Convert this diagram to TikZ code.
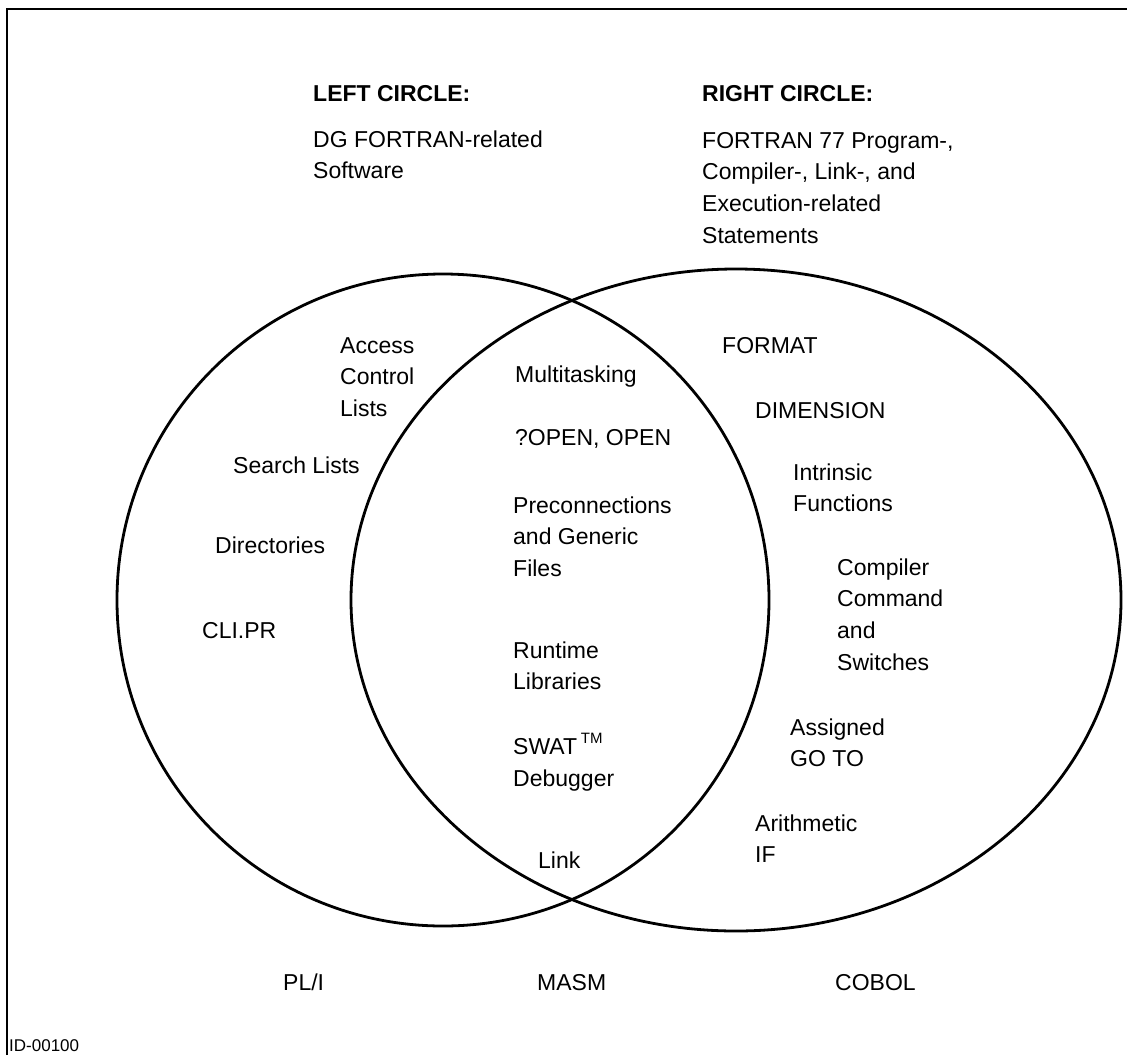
\documentclass[tikz,border=0pt]{standalone}
\usepackage{fontspec}
\setmainfont{Liberation Sans}
\begin{document}
\begin{tikzpicture}[x=1pt,y=-1pt,
  % labels are placed by the baseline of their last line
  lbl/.style={anchor=base west, align=left, inner sep=0pt,
    font=\fontsize{23}{31.7}\selectfont, text height=0.75em, text depth=0.25em},
  head/.style={lbl, font=\fontsize{23}{31.7}\selectfont\bfseries},
  ring/.style={line width=2.8pt},
  frame/.style={line width=1.6pt}]
\useasboundingbox (0,0) rectangle (1127,1055);

% frame
\draw[frame] (7,1055) -- (7,9) -- (1127,9);

% the two overlapping circles
\draw[ring] (443,600) circle [radius=326];
\draw[ring] (736,600) ellipse [x radius=385, y radius=331];

% headings
\node[head] (lh) at (313,101) {LEFT CIRCLE:};
\node[lbl] (ld) at (313,178.7) {DG FORTRAN-related\\Software};
\node[head] (rh) at (702,101) {RIGHT CIRCLE:};
\node[lbl] (rd) at (702,243.1) {FORTRAN 77 Program-,\\Compiler-, Link-, and\\Execution-related\\Statements};

% left circle only
\node[lbl] (acl) at (340,416.4) {Access\\Control\\Lists};
\node[lbl] (sl) at (233,473) {Search Lists};
\node[lbl] (dir) at (215,553) {Directories};
\node[lbl] (cli) at (202,638) {CLI.PR};

% shared region
\node[lbl] (mt) at (515,382) {Multitasking};
\node[lbl] (op) at (515,445) {?OPEN, OPEN};
\node[lbl] (pc) at (513,576.4) {Preconnections\\and Generic\\Files};
\node[lbl] (rt) at (513,689.7) {Runtime\\Libraries};
\node[lbl] (sw) at (513,786) {SWAT\,\raisebox{0.45em}{\fontsize{15}{15}\selectfont TM}\\Debugger};
\node[lbl] (lk) at (538,868) {Link};

% right circle only
\node[lbl] (fm) at (722,353) {FORMAT};
\node[lbl] (dm) at (755,418) {DIMENSION};
\node[lbl] (ifn) at (793,511.7) {Intrinsic\\Functions};
\node[lbl] (cc) at (837,670.1) {Compiler\\Command\\and\\Switches};
\node[lbl] (ag) at (790,766.7) {Assigned\\GO TO};
\node[lbl] (ar) at (755,862.7) {Arithmetic\\IF};

% outside both circles
\node[lbl] (pli) at (283,990) {PL/I};
\node[lbl] (masm) at (537,990) {MASM};
\node[lbl] (cob) at (835,990) {COBOL};

\node[anchor=base west, inner sep=0pt, font=\fontsize{17}{17}\selectfont] (id) at (9,1051) {ID-00100};
\end{tikzpicture}
\end{document}
